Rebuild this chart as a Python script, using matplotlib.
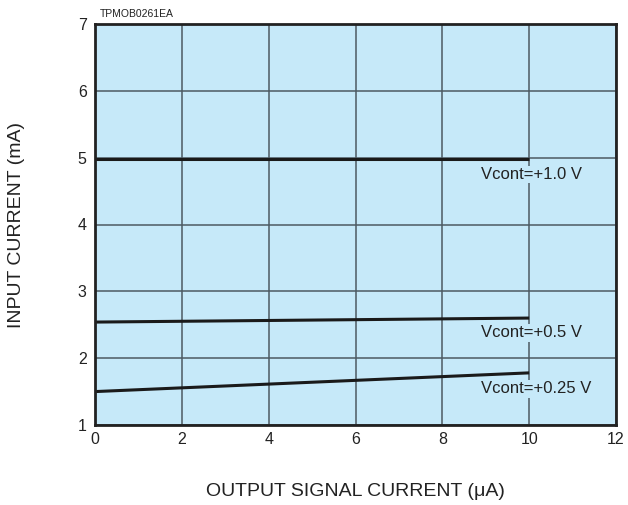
import matplotlib
matplotlib.use("Agg")
import matplotlib.pyplot as plt

plt.rcParams['font.family'] = ['Liberation Sans', 'DejaVu Sans']

# Data
x_vals = [0, 10]
i_10 = [4.98, 4.98]
i_05 = [2.54, 2.60]
i_025 = [1.50, 1.78]
labels = ["Vcont=+1.0 V", "Vcont=+0.5 V", "Vcont=+0.25 V"]
label_pos = [(8.9, 4.75), (8.9, 2.38), (8.9, 1.54)]
xticks = [0, 2, 4, 6, 8, 10, 12]
yticks = [1, 2, 3, 4, 5, 6, 7]

fig = plt.figure(figsize=(6.28, 5.05), dpi=100)
ax = fig.add_axes([95/628, 80/505, 521/628, 401/505])
ax.set_facecolor('#C6E9F9')
ax.set_xlim(0, 12)
ax.set_ylim(1, 7)
ax.set_xticks(xticks)
ax.set_yticks(yticks)
ax.tick_params(length=0, labelsize=11.5, colors='#222222')
ax.tick_params(axis='y', pad=6)
ax.tick_params(axis='x', pad=5)
ax.grid(True, color='#4d5a62', linewidth=1.1)
ax.set_axisbelow(True)
for s in ax.spines.values():
    s.set_linewidth(2.0)
    s.set_color('#222222')

for ys in (i_10, i_05, i_025):
    ax.plot(x_vals, ys, color='#1a1a1a', linewidth=2.2, solid_capstyle='butt')

for lab, (lx, ly) in zip(labels, label_pos):
    ax.text(lx, ly, lab, fontsize=12, color='#222222', va='center', ha='left',
            bbox=dict(facecolor='#C6E9F9', edgecolor='none', pad=1.0))

ax.set_xlabel("OUTPUT SIGNAL CURRENT (μA)", fontsize=14, labelpad=26, color='#222222')
ax.set_ylabel("INPUT CURRENT (mA)", fontsize=14, labelpad=38, color='#222222')
fig.text(100/628, 1 - 14/505, "TPMOB0261EA", fontsize=7.5, va='center', ha='left', color='#222222')

fig.savefig("out.png", dpi=100)
